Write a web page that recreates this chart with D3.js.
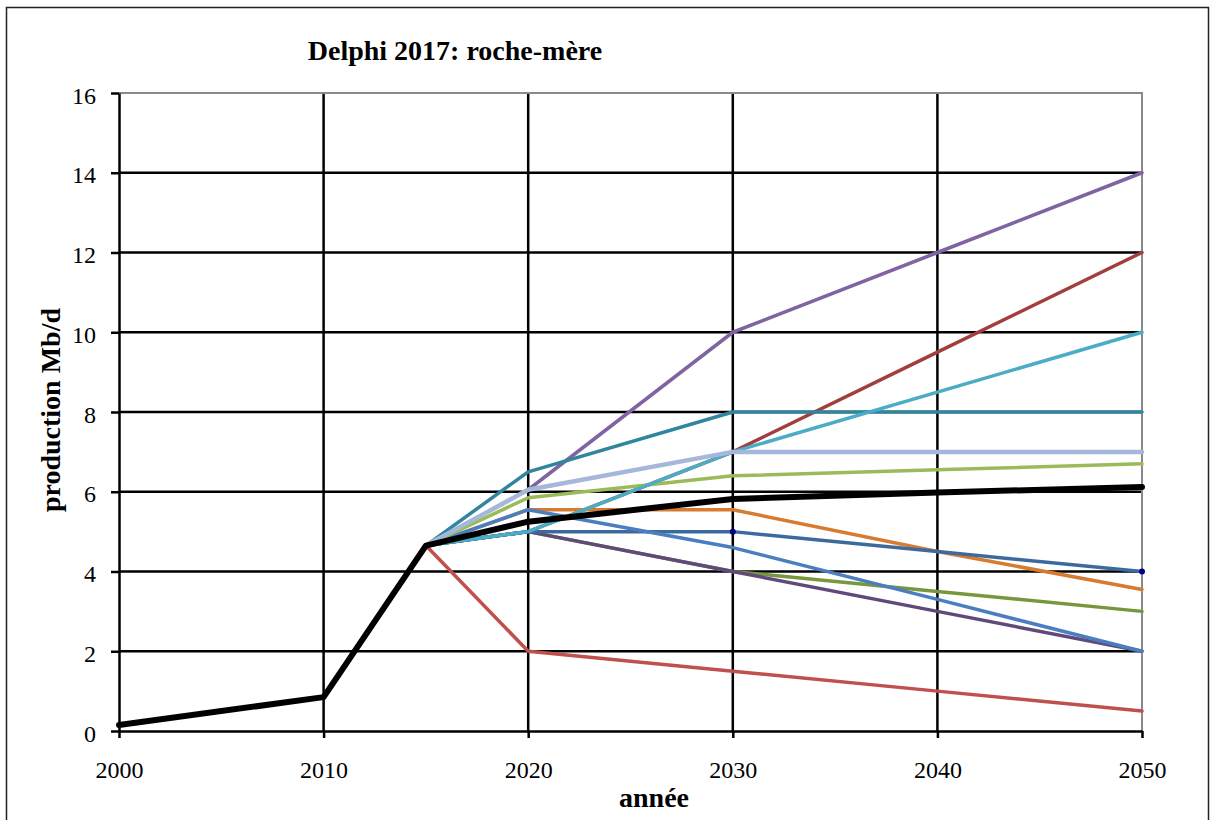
<!DOCTYPE html>
<html>
<head>
<meta charset="utf-8">
<script src="https://cdn.jsdelivr.net/npm/d3@7"></script>
<style>
  body { margin: 0; background: #fff; }
  text { font-family: 'Liberation Serif', 'Times New Roman', serif; }
</style>
</head>
<body>
<div class="chart"></div>
<script>
// DATA ------------------------------------
const years = [2000, 2010, 2015, 2020, 2030, 2040, 2050];
const history = [0.15, 0.85, 4.65];

const purple = [6.05, 10, 12, 14];
const darkRed = [5.0, 7.0, 9.5, 12];
const cyan = [5.0, 7.0, 8.5, 10];
const teal = [6.5, 8, 8, 8];
const lightBlue = [6.05, 7, 7, 7];
const lightGreen = [5.85, 6.4, 6.55, 6.7];
const orange = [5.55, 5.55, 4.5, 3.55];
const olive = [5.0, 4.0, 3.5, 3.0];
const darkPurple = [5.0, 4.0, 3.0, 2.0];
const darkBlue = [5.0, 5.0, 4.5, 4.0];
const medBlue = [5.55, 4.6, 3.3, 2.0];
const red = [2.0, 1.5, 1.0, 0.5];
const reference = [5.25, 5.82, 5.98, 6.12];

const yTicks = [0, 2, 4, 6, 8, 10, 12, 14, 16];
const xTicks = [2000, 2010, 2020, 2030, 2040, 2050];

// drawing order: first drawn ends up below
const series = [
  { name: 'darkRed', values: darkRed, color: '#A23E3C', width: 3.5 },
  { name: 'purple', values: purple, color: '#8064A2', width: 3.5 },
  { name: 'teal', values: teal, color: '#31859C', width: 3.5 },
  { name: 'olive', values: olive, color: '#77973D', width: 3.5 },
  { name: 'darkPurple', values: darkPurple, color: '#604A7B', width: 3.5 },
  { name: 'orange', values: orange, color: '#D67B30', width: 3.5 },
  { name: 'darkBlue', values: darkBlue, color: '#3D6A9C', width: 3.5, dots: true },
  { name: 'medBlue', values: medBlue, color: '#4A7EC0', width: 3.5 },
  { name: 'red', values: red, color: '#C0504D', width: 3.5 },
  { name: 'lightGreen', values: lightGreen, color: '#9BBB59', width: 3.5 },
  { name: 'cyan', values: cyan, color: '#4BACC6', width: 3.5 },
  { name: 'lightBlue', values: lightBlue, color: '#A6B8DA', width: 4.5 },
  { name: 'reference', values: reference, color: '#000000', width: 6 }
];

// CHART INIT ------------------------------
const margin = { top: 93, right: 72, bottom: 89, left: 119 };
const width = 1214 - margin.left - margin.right;
const height = 820 - margin.top - margin.bottom;

const svg = d3
  .select('.chart')
  .append('svg')
  .attr('width', 1214)
  .attr('height', 820);

// outer frame
svg.append('rect')
  .attr('x', 6.5).attr('y', 7.5)
  .attr('width', 1202).attr('height', 830)
  .attr('fill', 'none')
  .attr('stroke', '#222')
  .attr('stroke-width', 1.5);

const group = svg
  .append('g')
  .attr('transform', 'translate(' + margin.left + ',' + margin.top + ')');

const xScale = d3.scaleLinear().domain([2000, 2050]).range([0, width]);
const yScale = d3.scaleLinear().domain([0, 16]).range([height, 0]);

// gridlines
group.selectAll('.hgrid')
  .data(yTicks.filter((d) => d > 0 && d < 16))
  .enter().append('line')
  .attr('x1', 0).attr('x2', width)
  .attr('y1', (d) => yScale(d)).attr('y2', (d) => yScale(d))
  .attr('stroke', '#000').attr('stroke-width', 2.5);

group.selectAll('.vgrid')
  .data(xTicks.filter((d) => d > 2000 && d < 2050))
  .enter().append('line')
  .attr('x1', (d) => xScale(d)).attr('x2', (d) => xScale(d))
  .attr('y1', 0).attr('y2', height)
  .attr('stroke', '#000').attr('stroke-width', 2.5);

// plot area border top / right (grey)
group.append('path')
  .attr('d', 'M0,' + yScale(16) + 'H' + xScale(2050) + 'V' + yScale(0))
  .attr('fill', 'none')
  .attr('stroke', '#8a8a8a')
  .attr('stroke-width', 2);

// axes
const xAxis = d3.axisBottom(xScale).tickValues(xTicks).tickFormat(d3.format('d')).tickSize(7).tickSizeOuter(0);
const yAxis = d3.axisLeft(yScale).tickValues(yTicks).tickSize(8).tickSizeOuter(0);

const xAxisGroup = group.append('g')
  .attr('class', 'x-axis axis')
  .attr('transform', 'translate(0,' + height + ')')
  .call(xAxis);

const yAxisGroup = group.append('g')
  .attr('class', 'y-axis axis')
  .call(yAxis);

[xAxisGroup, yAxisGroup].forEach((g) => {
  g.attr('font-family', "'Liberation Serif', 'Times New Roman', serif");
  g.select('.domain').attr('stroke', '#000').attr('stroke-width', 2.5);
  g.selectAll('.tick line').attr('stroke', '#000').attr('stroke-width', 2.5);
  g.selectAll('.tick text')
    .attr('fill', '#000')
    .attr('font-size', 24);
});
xAxisGroup.selectAll('.tick text').attr('y', 30).attr('dy', '0.71em');
yAxisGroup.selectAll('.tick text').attr('x', -23).attr('dy', '0.42em');

// lines
const line = d3.line()
  .x((d) => xScale(d.year))
  .y((d) => yScale(d.value));

series.forEach((s) => {
  const pts = years.map((y, i) => ({
    year: y,
    value: i < history.length ? history[i] : s.values[i - history.length]
  }));
  group.append('path')
    .datum(pts)
    .attr('d', line)
    .attr('fill', 'none')
    .attr('stroke', s.color)
    .attr('stroke-width', s.width)
    .attr('stroke-linejoin', 'round')
    .attr('stroke-linecap', 'round');
  if (s.dots) {
    group.selectAll('.dot-' + s.name)
      .data(pts.filter((d) => d.year >= 2030 && d.year !== 2040))
      .enter().append('circle')
      .attr('cx', (d) => xScale(d.year))
      .attr('cy', (d) => yScale(d.value))
      .attr('r', 3)
      .attr('fill', '#000080');
  }
});

// titles
svg.append('text')
  .attr('x', 455).attr('y', 60)
  .attr('text-anchor', 'middle')
  .attr('font-weight', 'bold')
  .attr('font-size', 28)
  .text('Delphi 2017: roche-mère');

svg.append('text')
  .attr('x', 654).attr('y', 807)
  .attr('text-anchor', 'middle')
  .attr('font-weight', 'bold')
  .attr('font-size', 28)
  .text('année');

svg.append('text')
  .attr('transform', 'translate(60,410) rotate(-90)')
  .attr('text-anchor', 'middle')
  .attr('font-weight', 'bold')
  .attr('font-size', 28)
  .text('production Mb/d');
</script>
</body>
</html>
